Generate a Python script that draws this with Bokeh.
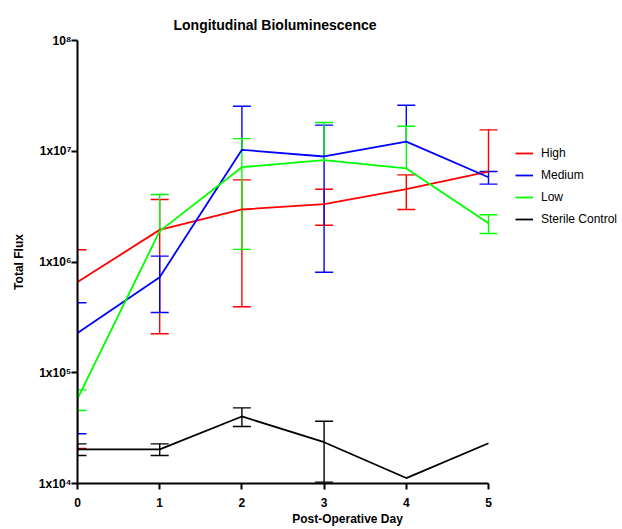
import math
from bokeh.plotting import figure
from bokeh.models import (ColumnDataSource, Whisker, TeeHead, Legend, LegendItem,
                          FixedTicker)
from bokeh.embed import file_html
from bokeh.resources import INLINE

# ---------------- data ----------------
days = [0, 1, 2, 3, 4, 5]
nan = float("nan")

high_mean = [6.6e5, 1.95e6, 2.98e6, 3.33e6, 4.54e6, 6.56e6]
high_upper = [1.29e6, 3.67e6, 5.52e6, 4.54e6, 6.12e6, 1.56e7]
high_lower = [2.07e4, 2.25e5, 3.94e5, 2.15e6, 2.98e6, nan]

medium_mean = [2.29e5, 7.3e5, 1.03e7, 8.97e6, 1.22e7, 5.83e6]
medium_upper = [4.28e5, 1.13e6, 2.55e7, 1.72e7, 2.6e7, 6.56e6]
medium_lower = [2.81e4, 3.5e5, nan, 8.09e5, nan, 5.05e6]

low_mean = [5.81e4, 1.9e6, 7.18e6, 8.3e6, 6.99e6, 2.24e6]
low_upper = [7.01e4, 4.07e6, 1.30e7, 1.82e7, 1.68e7, 2.67e6]
low_lower = [4.56e4, nan, 1.30e6, nan, nan, 1.81e6]

sterile_mean = [2.03e4, 2.03e4, 4.03e4, 2.36e4, 1.12e4, 2.31e4]
sterile_upper = [2.28e4, 2.28e4, 4.82e4, 3.65e4, nan, nan]
sterile_lower = [1.79e4, 1.79e4, 3.27e4, 1.03e4, nan, nan]

series_names = ["High", "Medium", "Low", "Sterile Control"]
series_colors = ["#FF0000", "#0000FF", "#00FF00", "#000000"]
series_means = [high_mean, medium_mean, low_mean, sterile_mean]
series_uppers = [high_upper, medium_upper, low_upper, sterile_upper]
series_lowers = [high_lower, medium_lower, low_lower, sterile_lower]

y_ticks = [1e4, 1e5, 1e6, 1e7, 1e8]
y_tick_labels = ["1x10⁴", "1x10⁵", "1x10⁶", "1x10⁷", "10⁸"]
x_ticks = [0, 1, 2, 3, 4, 5]

FONT = "Liberation Sans"

# ---------------- layout ----------------
W, H = 622, 529
LEFT, RIGHT, TOP, BOTTOM = 77, 5, 40, 46
AXIS_PX = 411                      # pixel length of the drawn x axis (day 0..5)
frame_w = W - LEFT - RIGHT
x_end = x_ticks[-1] * frame_w / AXIS_PX   # extra room on the right for the legend

p = figure(width=W, height=H, y_axis_type="log",
           x_range=(0, x_end), y_range=(1e4, 1e8),
           output_backend="svg", toolbar_location=None,
           min_border_left=LEFT, min_border_right=RIGHT,
           min_border_top=TOP, min_border_bottom=BOTTOM,
           title="Longitudinal Bioluminescence")
p.title.text_font = FONT
p.title.text_font_size = "14px"
p.title.text_font_style = "bold"
p.title.text_color = "black"
p.title.align = "left"
p.title.offset = 96
p.title.standoff = 12
p.title.vertical_align = "top"

p.xgrid.visible = False
p.ygrid.visible = False
p.outline_line_color = None
p.background_fill_color = "white"
p.border_fill_color = "white"

for ax in (p.xaxis[0], p.yaxis[0]):
    ax.axis_line_width = 2
    ax.axis_line_color = "black"
    ax.major_tick_line_width = 2
    ax.major_tick_out = 6
    ax.major_tick_in = 0
    ax.minor_tick_line_color = None
    ax.major_label_text_font = FONT
    ax.major_label_text_font_style = "bold"
    ax.major_label_text_font_size = "12px"
    ax.major_label_text_color = "black"
    ax.axis_label_text_font = FONT
    ax.axis_label_text_font_style = "bold"
    ax.axis_label_text_font_size = "12px"
    ax.axis_label_text_color = "black"

p.xaxis.ticker = x_ticks
p.xaxis.bounds = (x_ticks[0], x_ticks[-1])
p.xaxis.major_label_standoff = 8
p.xaxis.axis_label = "Post-Operative Day"
p.xaxis.axis_label_standoff = 2

p.yaxis.ticker = FixedTicker(ticks=y_ticks, minor_ticks=[])
p.yaxis.major_label_overrides = {float(t): s for t, s in zip(y_ticks, y_tick_labels)}
p.yaxis.major_label_standoff = 0
p.yaxis.axis_label = "Total Flux"
p.yaxis.axis_label_standoff = 10

# ---------------- series ----------------
legend_items = []
for name, c, m, u, lo in zip(series_names, series_colors, series_means,
                             series_uppers, series_lowers):
    ux = [d for d, uu in zip(days, u) if not math.isnan(uu)]
    um = [mm for mm, uu in zip(m, u) if not math.isnan(uu)]
    uu_ = [uu for uu in u if not math.isnan(uu)]
    if ux:
        src_u = ColumnDataSource(dict(x=ux, m=um, u=uu_))
        p.add_layout(Whisker(source=src_u, base="x", lower="m", upper="u",
                             dimension="height", line_color=c, line_width=1.4,
                             upper_head=TeeHead(size=18, line_color=c, line_width=1.4),
                             lower_head=None))
    lx = [d for d, ll in zip(days, lo) if not math.isnan(ll)]
    lm = [mm for mm, ll in zip(m, lo) if not math.isnan(ll)]
    ll_ = [ll for ll in lo if not math.isnan(ll)]
    if lx:
        src_l = ColumnDataSource(dict(x=lx, m=lm, l=ll_))
        p.add_layout(Whisker(source=src_l, base="x", lower="l", upper="m",
                             dimension="height", line_color=c, line_width=1.4,
                             lower_head=TeeHead(size=18, line_color=c, line_width=1.4),
                             upper_head=None))
    r = p.line(days, m, line_color=c, line_width=1.8)
    legend_items.append(LegendItem(label=name, renderers=[r]))

legend = Legend(items=legend_items, location=(438, 254),
                glyph_width=18, glyph_height=20, label_height=20,
                label_standoff=8, spacing=2, padding=0, margin=0,
                border_line_color=None, background_fill_alpha=0,
                label_text_font=FONT, label_text_font_size="12px",
                label_text_color="black")
p.add_layout(legend, "center")

open("out.html", "w").write(file_html(p, INLINE))
